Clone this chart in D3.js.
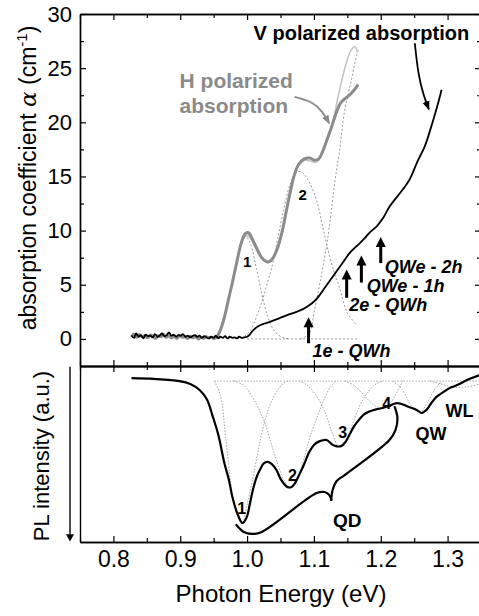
<!DOCTYPE html>
<html><head><meta charset="utf-8">
<script src="https://cdn.jsdelivr.net/npm/d3@7"></script>
<style>
body{margin:0;background:#fff}
text{font-family:"Liberation Sans",Arial,sans-serif}
</style></head><body>
<svg id="chart" width="479" height="616"></svg>
<script>
// tick values
const xTicks = [0.8, 0.9, 1.0, 1.1, 1.2, 1.3];
const xMinor = [0.75, 0.85, 0.95, 1.05, 1.15, 1.25, 1.35];
const yTicks = [0, 5, 10, 15, 20, 25, 30];
const yMinor = [2.5, 7.5, 12.5, 17.5, 22.5, 27.5];

// V polarized absorption [eV, alpha]
const vAbs = [[0.827,0.3],[0.831,0.1],[0.834,0.5],[0.838,0.2],[0.841,0.35],[0.845,0.05],[0.848,0.4],[0.852,0.25],[0.855,0.3],[0.859,0.15],[0.862,0.45],[0.866,0.2],[0.869,0.3],[0.873,0.5],[0.876,0.25],[0.880,0.35],[0.883,0.6],[0.887,0.3],[0.890,0.4],[0.894,0.2],[0.897,0.35],[0.901,0.3],[0.904,0.45],[0.908,0.2],[0.911,0.3],[0.915,0.15],[0.918,0.25],[0.922,0.35],[0.925,0.2],[0.929,0.3],[0.932,0.1],[0.936,0.25],[0.939,0.15],[0.943,0.05],[0.946,0.2],[0.950,0.1],[0.953,0.3],[0.957,0.05],[0.960,0.2],[0.964,0.1],[0.967,0.25],[0.971,0.05],[0.974,0.2],[0.978,0.1],[0.981,0.15],[0.985,0.05],[0.988,0.2],[0.992,0.1],[0.996,0.15],[1.0,0.2],[1.004,0.4],[1.009,0.8],[1.016,1.15],[1.025,1.4],[1.035,1.6],[1.048,1.9],[1.06,2.2],[1.074,2.5],[1.085,2.8],[1.093,3.1],[1.101,3.5],[1.108,4.0],[1.116,4.7],[1.123,5.3],[1.131,6.0],[1.138,6.6],[1.146,7.3],[1.153,7.9],[1.161,8.4],[1.168,8.8],[1.176,9.3],[1.183,9.8],[1.194,10.4],[1.204,11.2],[1.213,12.2],[1.228,13.4],[1.243,14.7],[1.255,16.4],[1.266,17.8],[1.278,20.1],[1.286,21.8],[1.291,23.0]];

// H polarized absorption (measured)
const hAbs = [[0.827,0.2],[0.831,0.45],[0.835,0.15],[0.839,0.4],[0.843,0.2],[0.847,0.3],[0.851,0.1],[0.855,0.35],[0.859,0.25],[0.863,0.05],[0.867,0.3],[0.871,0.2],[0.875,0.4],[0.879,0.15],[0.883,0.3],[0.887,0.1],[0.891,0.25],[0.895,0.05],[0.899,0.3],[0.903,0.15],[0.907,0.2],[0.911,0.05],[0.915,0.25],[0.919,0.1],[0.923,0.2],[0.927,0.0],[0.931,0.15],[0.935,0.05],[0.939,0.2],[0.943,0.1],[0.947,0.15],[0.951,0.05],[0.955,0.2],[0.96,0.8],[0.966,2.0],[0.972,3.6],[0.978,5.2],[0.985,7.2],[0.991,8.8],[0.997,9.7],[1.002,9.8],[1.008,9.2],[1.015,8.3],[1.022,7.5],[1.031,7.1],[1.038,7.4],[1.045,8.3],[1.052,9.8],[1.058,11.6],[1.064,13.4],[1.07,15.0],[1.077,16.1],[1.085,16.6],[1.094,16.7],[1.101,16.5],[1.107,16.6],[1.113,17.3],[1.119,18.3],[1.126,19.5],[1.133,20.8],[1.14,21.8],[1.147,22.2],[1.153,22.5],[1.159,22.9],[1.163,23.2],[1.166,23.5]];

// H polarized sum of fits
const hFit = [[0.955,0.0],[0.962,1.2],[0.97,3.0],[0.978,5.2],[0.985,7.2],[0.992,8.9],[0.998,9.5],[1.004,9.4],[1.01,8.7],[1.018,7.8],[1.026,7.2],[1.033,7.1],[1.04,7.6],[1.047,8.6],[1.054,10.2],[1.06,12.0],[1.066,13.8],[1.072,15.3],[1.079,16.2],[1.087,16.5],[1.095,16.4],[1.102,16.3],[1.108,16.6],[1.114,17.4],[1.12,18.4],[1.126,19.4],[1.131,20.8],[1.137,22.6],[1.143,24.2],[1.149,25.6],[1.155,26.6],[1.161,27.0],[1.165,26.5]];

// H polarized fit components
const hPeak1 = [[0.955,0.0],[0.965,1.5],[0.975,4.5],[0.985,7.5],[0.992,8.9],[0.999,9.4],[1.006,8.6],[1.014,6.5],[1.022,4.2],[1.03,2.2],[1.038,1.0],[1.046,0.4],[1.055,0.1],[1.063,0.0]];
const hPeak2 = [[0.985,0.0],[0.995,0.2],[1.005,0.8],[1.015,2.2],[1.023,3.6],[1.03,5.1],[1.037,6.6],[1.045,9.0],[1.055,12.0],[1.065,14.4],[1.074,15.4],[1.082,15.4],[1.092,14.6],[1.104,12.8],[1.112,10.7],[1.12,8.5],[1.13,6.2],[1.138,4.8],[1.15,2.4],[1.164,1.3]];
const hPeak3 = [[1.08,0.0],[1.093,0.5],[1.101,2.7],[1.11,5.5],[1.12,9.0],[1.127,12.3],[1.132,14.8],[1.138,17.2],[1.146,21.1],[1.156,23.9],[1.164,26.2],[1.167,26.8]];
const hBase = [[1.0,0.0],[1.165,0.0]];

// PL intensity (a.u., grows downward)
const pl = [[0.827,-0.02],[0.86,-0.015],[0.899,0.0],[0.915,0.02],[0.929,0.063],[0.94,0.13],[0.948,0.24],[0.957,0.38],[0.966,0.577],[0.973,0.7],[0.978,0.817],[0.986,0.94],[0.993,1.0],[0.999,0.965],[1.004,0.87],[1.008,0.78],[1.014,0.68],[1.019,0.627],[1.025,0.58],[1.031,0.57],[1.037,0.585],[1.044,0.627],[1.051,0.697],[1.06,0.746],[1.066,0.748],[1.071,0.725],[1.078,0.66],[1.085,0.59],[1.093,0.5],[1.1,0.45],[1.108,0.425],[1.119,0.415],[1.128,0.45],[1.134,0.46],[1.141,0.458],[1.147,0.43],[1.153,0.38],[1.16,0.32],[1.168,0.27],[1.175,0.235],[1.183,0.215],[1.193,0.2],[1.203,0.19],[1.214,0.172],[1.224,0.155],[1.233,0.165],[1.243,0.185],[1.25,0.195],[1.256,0.21],[1.261,0.225],[1.268,0.205],[1.275,0.16],[1.283,0.113],[1.293,0.08],[1.303,0.05],[1.316,0.025],[1.329,-0.007],[1.347,-0.04]];

// PL fit components
const plBase = [[0.951,0.0],[1.35,0.0]];
const plPeak1 = [[0.951,0.0],[0.96,0.1],[0.968,0.4],[0.978,0.8],[0.986,0.95],[0.993,1.0],[1.0,0.87],[1.008,0.697],[1.017,0.48],[1.026,0.289],[1.036,0.15],[1.046,0.063],[1.055,0.015],[1.063,0.0]];
const plPeak2 = [[0.98,0.0],[0.995,0.03],[1.01,0.13],[1.026,0.289],[1.04,0.5],[1.05,0.64],[1.058,0.72],[1.066,0.75],[1.075,0.7],[1.085,0.55],[1.095,0.38],[1.106,0.24],[1.116,0.12],[1.125,0.04],[1.134,0.0]];
const plPeak3 = [[1.078,0.0],[1.09,0.03],[1.103,0.1],[1.116,0.21],[1.127,0.36],[1.138,0.465],[1.148,0.42],[1.158,0.3],[1.168,0.18],[1.179,0.09],[1.19,0.03],[1.203,0.0]];
const plPeak4 = [[1.146,0.0],[1.16,0.03],[1.175,0.1],[1.19,0.17],[1.203,0.19],[1.215,0.15],[1.224,0.08],[1.233,0.0]];
const plQW = [[1.218,0.0],[1.232,0.06],[1.245,0.17],[1.258,0.22],[1.27,0.15],[1.282,0.05],[1.293,0.0]];
const plWL = [[1.273,0.0],[1.29,0.02],[1.31,0.045],[1.33,0.04],[1.35,0.02]];

// annotation arrows, brace
const vArrow = [[1.251,27.3],[1.256,24.4],[1.264,22.5],[1.272,21.2]];
const hArrow = [[1.071,22.35],[1.098,21.9],[1.113,21.0],[1.123,19.9]];
const upArrows = [
  {e:1.092, from:-0.4, to:2.0, label:"1e - QWh", le:1.098, la:-1.7},
  {e:1.149, from:3.8, to:6.4, label:"2e - QWh", le:1.153, la:2.6},
  {e:1.171, from:5.2, to:7.7, label:"QWe - 1h", le:1.179, la:4.3},
  {e:1.2, from:7.0, to:9.4, label:"QWe - 2h", le:1.206, la:6.1}
];
const braceLow = [[0.984,1.014],[0.995,1.063],[1.007,1.077],[1.022,1.063],[1.104,0.789],[1.116,0.782],[1.123,0.803],[1.126,0.838]];
const braceHigh = [[1.126,0.838],[1.128,0.768],[1.134,0.704],[1.146,0.662],[1.213,0.415],[1.222,0.345],[1.225,0.26],[1.221,0.183]];

const svg = d3.select("#chart");
const x = d3.scaleLinear().domain([0.75, 1.35]).range([80, 481]);
const yA = d3.scaleLinear().domain([-2.5, 30]).range([366, 14]);
const yP = d3.scaleLinear().domain([-0.106, 1.134]).range([366, 542]);

const defs = svg.append("defs");
[["arrowK", "#000"], ["arrowG", "#8a8a8a"]].forEach(([id, c]) => {
  defs.append("marker").attr("id", id).attr("viewBox", "0 0 10 10")
    .attr("refX", 9).attr("refY", 5).attr("markerWidth", 5).attr("markerHeight", 5)
    .attr("orient", "auto").attr("markerUnits", "strokeWidth")
    .append("path").attr("d", "M0,1 L10,5 L0,9 Z").attr("fill", c);
});

const lineA = d3.line().x(d => x(d[0])).y(d => yA(d[1])).curve(d3.curveCatmullRom.alpha(0.5));
const lineP = d3.line().x(d => x(d[0])).y(d => yP(d[1])).curve(d3.curveCatmullRom.alpha(0.5));

// ---- top panel fits
[hBase, hPeak1, hPeak2, hPeak3].forEach(d => {
  svg.append("path").attr("d", lineA(d)).attr("fill", "none")
    .attr("stroke", "#9a9a9a").attr("stroke-width", 1).attr("stroke-dasharray", "2,2");
});
svg.append("path").attr("d", lineA(hFit)).attr("fill", "none")
  .attr("stroke", "#c4c4c4").attr("stroke-width", 1.6);
svg.append("path").attr("d", lineA(hAbs)).attr("fill", "none")
  .attr("stroke", "#8c8c8c").attr("stroke-width", 3).attr("stroke-linejoin", "round");
svg.append("path").attr("d", lineA(vAbs)).attr("fill", "none")
  .attr("stroke", "#000").attr("stroke-width", 1.8);

// ---- bottom panel
[plBase, plPeak1, plPeak2, plPeak3, plPeak4, plQW, plWL].forEach(d => {
  svg.append("path").attr("d", lineP(d)).attr("fill", "none")
    .attr("stroke", "#a8a8a8").attr("stroke-width", 1).attr("stroke-dasharray", "1.5,1.5");
});
svg.append("path").attr("d", lineP(pl)).attr("fill", "none")
  .attr("stroke", "#000").attr("stroke-width", 2.2);
[braceLow, braceHigh].forEach(d => {
  svg.append("path").attr("d", lineP(d)).attr("fill", "none")
    .attr("stroke", "#000").attr("stroke-width", 2.2).attr("stroke-linecap", "round");
});

// ---- axes
function ax(gen, tr, ticks, size) {
  const g = svg.append("g").attr("transform", tr)
    .call(gen.tickValues(ticks).tickSize(size).tickSizeOuter(0).tickFormat(""));
  g.selectAll("line").attr("stroke-width", 1.2);
  g.select(".domain").attr("stroke-width", 1.4);
  return g;
}
// top panel frame
ax(d3.axisTop(x), "translate(0,14)", xTicks, -6);
ax(d3.axisTop(x), "translate(0,14)", xMinor, -4);
ax(d3.axisBottom(x), "translate(0,366)", xTicks, -6);
ax(d3.axisBottom(x), "translate(0,366)", xMinor, -4);
ax(d3.axisRight(yA), "translate(481,0)", yTicks, -6);
ax(d3.axisRight(yA), "translate(481,0)", yMinor, -4);
ax(d3.axisLeft(yA), "translate(80,0)", yMinor, -4);
const gy = svg.append("g").attr("transform", "translate(80,0)")
  .call(d3.axisLeft(yA).tickValues(yTicks).tickSize(-6).tickSizeOuter(0).tickPadding(8));
gy.selectAll("line").attr("stroke-width", 1.2);
gy.select(".domain").attr("stroke-width", 1.4);
gy.selectAll("text").attr("font-size", 22).attr("font-family", "Liberation Sans, Arial, sans-serif");

// bottom panel frame
ax(d3.axisTop(x), "translate(0,366)", xTicks, -6);
ax(d3.axisTop(x), "translate(0,366)", xMinor, -4);
ax(d3.axisLeft(yP), "translate(80,0)", [], 0);
ax(d3.axisRight(yP), "translate(481,0)", [], 0);
ax(d3.axisBottom(x), "translate(0,542)", xMinor, -4);
const gx = svg.append("g").attr("transform", "translate(0,542)")
  .call(d3.axisBottom(x).tickValues(xTicks).tickSize(-6).tickSizeOuter(0)
    .tickPadding(9).tickFormat(d3.format(".1f")));
gx.selectAll("line").attr("stroke-width", 1.2);
gx.select(".domain").attr("stroke-width", 1.4);
gx.selectAll("text").attr("font-size", 23).attr("font-family", "Liberation Sans, Arial, sans-serif");

// axis titles
svg.append("text").attr("transform", "translate(36,178) rotate(-90)")
  .attr("text-anchor", "middle").attr("font-size", 23)
  .html('absorption coefficient <tspan font-family="DejaVu Serif, serif" font-style="italic">α</tspan> (cm<tspan font-size="15" dy="-9">-1</tspan><tspan dy="9">)</tspan>');
svg.append("text").attr("transform", "translate(49,456) rotate(-90)")
  .attr("text-anchor", "middle").attr("font-size", 22).text("PL intensity (a.u.)");
svg.append("text").attr("x", 281).attr("y", 602).attr("text-anchor", "middle")
  .attr("font-size", 24).text("Photon Energy (eV)");
svg.append("line").attr("x1", 70).attr("x2", 70).attr("y1", yP(-0.1)).attr("y2", yP(1.08))
  .attr("stroke", "#000").attr("stroke-width", 1.4);
svg.append("path")
  .attr("d", `M66,${yP(1.08)} L74,${yP(1.08)} L70,${yP(1.13)} Z`).attr("fill", "#000");

// ---- annotations top
svg.append("text").attr("x", x(1.171)).attr("y", yA(27.6)).attr("text-anchor", "middle")
  .attr("font-size", 20).attr("font-weight", "bold").text("V polarized absorption");
svg.append("path").attr("d", d3.line().x(d => x(d[0])).y(d => yA(d[1])).curve(d3.curveBasis)(vArrow))
  .attr("fill", "none").attr("stroke", "#000").attr("stroke-width", 1.8).attr("marker-end", "url(#arrowK)");
const ht = svg.append("text").attr("font-size", 21).attr("font-weight", "bold").attr("fill", "#8a8a8a");
ht.append("tspan").attr("x", x(0.899)).attr("y", yA(23.2)).text("H polarized");
ht.append("tspan").attr("x", x(0.899)).attr("y", yA(20.9)).text("absorption");
svg.append("path").attr("d", d3.line().x(d => x(d[0])).y(d => yA(d[1])).curve(d3.curveBasis)(hArrow))
  .attr("fill", "none").attr("stroke", "#8a8a8a").attr("stroke-width", 1.8).attr("marker-end", "url(#arrowG)");
[["1", 1.0, 7.1], ["2", 1.083, 13.3]].forEach(([t, e, a]) => {
  svg.append("text").attr("x", x(e)).attr("y", yA(a)).attr("dy", "0.36em").attr("text-anchor", "middle")
    .attr("font-size", 15).attr("font-weight", "bold").text(t);
});
upArrows.forEach(d => {
  const xe = x(d.e), tip = yA(d.to);
  svg.append("line").attr("x1", xe).attr("x2", xe).attr("y1", yA(d.from)).attr("y2", tip + 8)
    .attr("stroke", "#000").attr("stroke-width", 3);
  svg.append("path").attr("d", `M${xe - 5},${tip + 10} L${xe},${tip} L${xe + 5},${tip + 10} Z`).attr("fill", "#000");
  svg.append("text").attr("x", x(d.le)).attr("y", yA(d.la)).attr("font-size", 18)
    .attr("font-weight", "bold").attr("font-style", "italic").text(d.label);
});

// ---- annotations bottom
[["1", 0.992, 0.894], ["2", 1.068, 0.662], ["3", 1.143, 0.36], ["4", 1.209, 0.155]].forEach(([t, e, v]) => {
  svg.append("text").attr("x", x(e)).attr("y", yP(v)).attr("dy", "0.36em").attr("text-anchor", "middle")
    .attr("font-size", 16).attr("font-weight", "bold").text(t);
});
[["QW", 1.275, 0.415, 18], ["WL", 1.318, 0.254, 18], ["QD", 1.15, 1.028, 19]].forEach(([t, e, v, s]) => {
  svg.append("text").attr("x", x(e)).attr("y", yP(v)).attr("text-anchor", "middle")
    .attr("font-size", s).attr("font-weight", "bold").text(t);
});
</script></body></html>
